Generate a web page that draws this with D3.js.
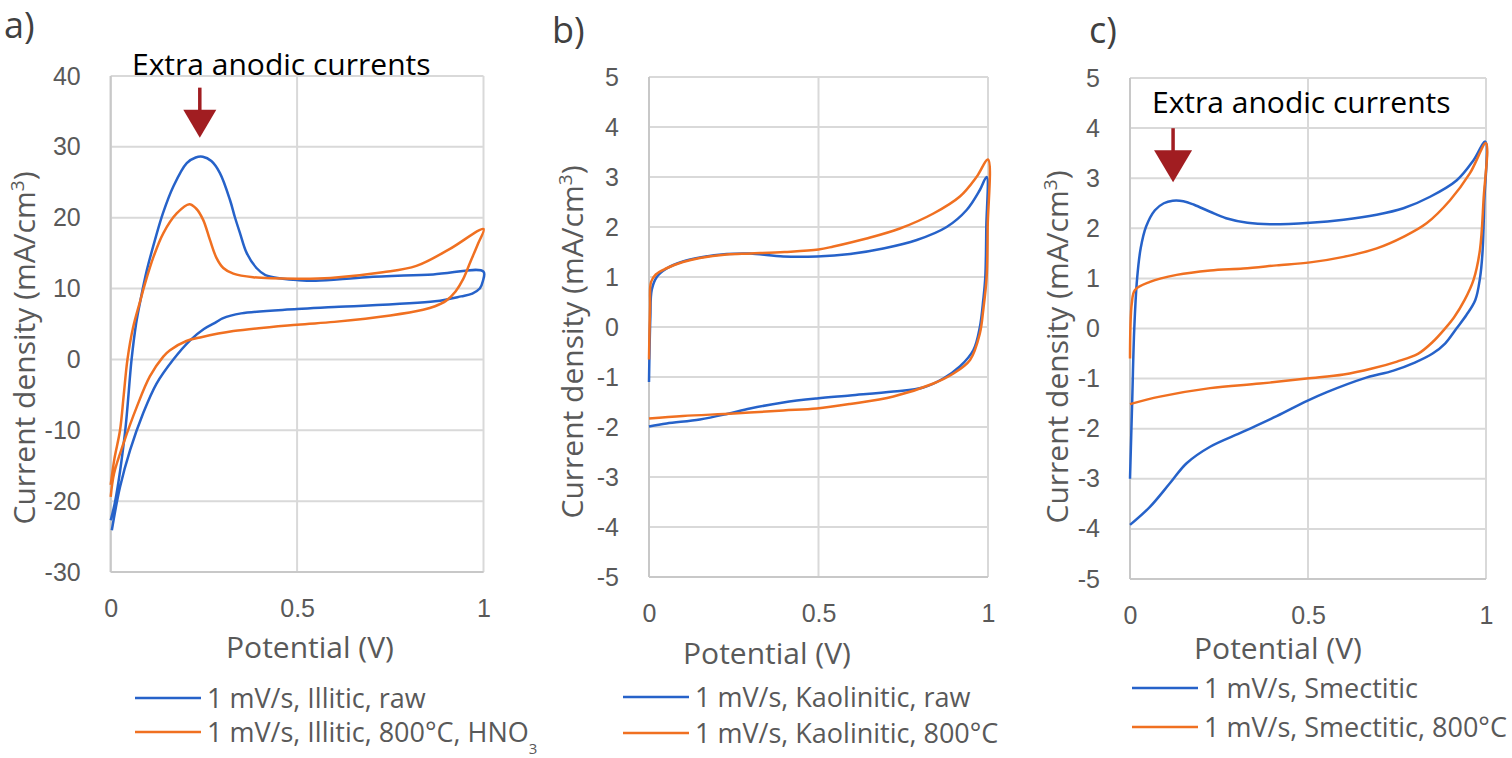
<!DOCTYPE html>
<html>
<head>
<meta charset="utf-8">
<script src="https://cdn.jsdelivr.net/npm/d3@7"></script>
<style>
body { margin: 0; background: #fff; }
svg { display: block; font-family: "Open Sans", sans-serif; }
.tick text { fill: #595959; font-size: 25px; }
.title { fill: #595959; font-size: 30px; }
.legend { fill: #595959; font-size: 27px; }
</style>
</head>
<body>
<svg id="chart" width="1512" height="758"></svg>
<script>
// tick values
var potentialTicks = [0, 0.5, 1];
var densityTicksA = [-30, -20, -10, 0, 10, 20, 30, 40];
var densityTicksBC = [-5, -4, -3, -2, -1, 0, 1, 2, 3, 4, 5];

// CV loops, [potential V, current density mA/cm3]
var illiticRaw = [[0,-22.7],[0.012,-20],[0.038,-10.5],[0.056,0],[0.068,5],[0.08,8.4],[0.097,12.6],[0.119,16.9],[0.14,20.6],[0.168,24.4],[0.204,27.7],[0.228,28.5],[0.247,28.6],[0.27,28.0],[0.293,26.3],[0.32,22.5],[0.333,20.1],[0.347,17.8],[0.365,15],[0.391,12.9],[0.415,11.9],[0.462,11.4],[0.5,11.2],[0.55,11.1],[0.686,11.6],[0.865,12.0],[1.0,12.4],
  [0.998,11],[0.99,10],[0.97,9.3],[0.94,8.9],[0.87,8.2],[0.6,7.4],[0.5,7.1],[0.35,6.5],[0.3,5.8],[0.284,5.3],[0.25,4.3],[0.213,2.7],[0.168,0],[0.123,-3.4],[0.087,-7.6],[0.052,-12.8],[0.025,-18],[0.003,-24.1]];
var illiticHNO3 = [[0,-17.7],[0.01,-14],[0.025,-10],[0.035,-5],[0.045,0],[0.06,4.5],[0.08,8.4],[0.092,10.7],[0.115,14.5],[0.141,17.8],[0.177,20.6],[0.211,21.9],[0.229,21.3],[0.248,19.7],[0.266,16.9],[0.284,14.3],[0.302,12.9],[0.329,12.1],[0.382,11.6],[0.5,11.4],[0.59,11.5],[0.73,12.3],[0.82,13.2],[0.91,15.6],[1.0,18.4],
  [0.985,16.3],[0.965,13.8],[0.945,11.3],[0.925,9.6],[0.9,8.3],[0.87,7.5],[0.838,7.0],[0.75,6.2],[0.6,5.3],[0.5,4.9],[0.329,4.0],[0.24,3.1],[0.203,2.6],[0.159,1.3],[0.141,0.4],[0.105,-2.4],[0.07,-6.7],[0.034,-11.9],[0.009,-16.1],[0,-19.4]];

var kaoliniticRaw = [[0,-1.1],[0.004,0.2],[0.008,0.74],[0.023,1.0],[0.052,1.17],[0.1,1.31],[0.15,1.39],[0.229,1.46],[0.298,1.47],[0.396,1.41],[0.495,1.41],[0.593,1.46],[0.691,1.57],[0.79,1.74],[0.878,2.0],[0.937,2.34],[0.976,2.74],[0.996,3.0],
  [0.995,2.0],[0.992,1.0],[0.986,0.54],[0.976,0],[0.957,-0.46],[0.917,-0.79],[0.868,-1.03],[0.809,-1.21],[0.721,-1.29],[0.593,-1.37],[0.495,-1.43],[0.396,-1.51],[0.298,-1.63],[0.23,-1.74],[0.15,-1.85],[0.052,-1.93],[0,-1.99]];
var kaolinitic800 = [[0,-0.65],[0.003,0.4],[0.006,0.9],[0.02,1.05],[0.05,1.17],[0.1,1.3],[0.15,1.38],[0.229,1.45],[0.3,1.47],[0.4,1.5],[0.5,1.55],[0.544,1.61],[0.642,1.77],[0.74,1.97],[0.839,2.27],[0.917,2.61],[0.966,3.0],[1.0,3.35],
  [0.999,2.0],[0.996,1.0],[0.986,0.34],[0.976,-0.13],[0.947,-0.66],[0.898,-0.93],[0.839,-1.13],[0.721,-1.39],[0.593,-1.54],[0.495,-1.63],[0.396,-1.67],[0.25,-1.73],[0.1,-1.78],[0,-1.83]];

var smectiticRaw = [[0,-3.0],[0.006,-1.5],[0.012,0],[0.02,1.0],[0.03,1.6],[0.045,2.03],[0.07,2.36],[0.095,2.5],[0.12,2.55],[0.15,2.54],[0.18,2.47],[0.225,2.33],[0.27,2.2],[0.33,2.11],[0.393,2.08],[0.506,2.11],[0.6,2.17],[0.693,2.27],[0.768,2.4],[0.843,2.63],[0.918,2.96],[0.965,3.36],[0.998,3.73],
  [0.995,2.5],[0.99,1.5],[0.983,1.0],[0.97,0.57],[0.945,0.27],[0.917,0],[0.885,-0.3],[0.85,-0.5],[0.8,-0.68],[0.74,-0.84],[0.655,-1.0],[0.553,-1.27],[0.496,-1.45],[0.412,-1.75],[0.318,-2.06],[0.225,-2.36],[0.159,-2.69],[0.112,-3.09],[0.056,-3.56],[0,-3.92]];
var smectitic800 = [[0,-0.6],[0.005,0.5],[0.014,0.77],[0.056,0.93],[0.131,1.07],[0.225,1.16],[0.318,1.2],[0.412,1.26],[0.506,1.32],[0.6,1.43],[0.693,1.6],[0.768,1.83],[0.833,2.1],[0.899,2.56],[0.955,3.1],[1.0,3.7],
  [0.993,2.56],[0.983,1.57],[0.965,0.97],[0.94,0.57],[0.91,0.22],[0.885,0],[0.85,-0.27],[0.81,-0.5],[0.75,-0.66],[0.68,-0.8],[0.6,-0.92],[0.496,-1.0],[0.365,-1.1],[0.225,-1.19],[0.084,-1.36],[0,-1.51]];

var legendA = ["1 mV/s, Illitic, raw", "1 mV/s, Illitic, 800°C, HNO"];
var legendB = ["1 mV/s, Kaolinitic, raw", "1 mV/s, Kaolinitic, 800°C"];
var legendC = ["1 mV/s, Smectitic", "1 mV/s, Smectitic, 800°C"];
var annotation = "Extra anodic currents";

var blue = "#2662c9", orange = "#f07021", arrowRed = "#a11d21";

var svg = d3.select("#chart");

var panels = [
  { label: "a)", lx: 4, ly: 38, x0: 110.7, x1: 483.5, yTop: 76, yBot: 572, yDomain: [-30, 40], yTicks: densityTicksA,
    series: [illiticRaw, illiticHNO3], legend: legendA, legX: 135, legY: [698, 732], sub: true,
    xtx: 310, xty: 658, ytx: 35, yty: 348,
    note: { x: 132, y: 75, tip: [0.239, 31.3], shaft: 50, head: 28, hw: 16.5 } },
  { label: "b)", lx: 552, ly: 43, x0: 649, x1: 988, yTop: 77, yBot: 577, yDomain: [-5, 5], yTicks: densityTicksBC,
    series: [kaoliniticRaw, kaolinitic800], legend: legendB, legX: 623, legY: [697, 733],
    xtx: 767, xty: 664, ytx: 583, yty: 342 },
  { label: "c)", lx: 1089, ly: 43, x0: 1130, x1: 1486, yTop: 78, yBot: 579, yDomain: [-5, 5], yTicks: densityTicksBC,
    series: [smectiticRaw, smectitic800], legend: legendC, legX: 1132, legY: [688, 727],
    xtx: 1278, xty: 659, ytx: 1068, yty: 347,
    note: { x: 1152, y: 113, tip: [0.121, 2.92], shaft: 54, head: 32, hw: 19 } }
];

panels.forEach(function(p){
  var x = d3.scaleLinear().domain([0, 1]).range([p.x0, p.x1]);
  var y = d3.scaleLinear().domain(p.yDomain).range([p.yBot, p.yTop]);
  var g = svg.append("g");

  // grid
  g.append("g").selectAll("line").data(p.yTicks).enter().append("line")
    .attr("x1", p.x0).attr("x2", p.x1)
    .attr("y1", function(d){ return y(d); }).attr("y2", function(d){ return y(d); })
    .attr("stroke", "#d9d9d9").attr("stroke-width", 2);
  g.append("g").selectAll("line").data(potentialTicks).enter().append("line")
    .attr("x1", function(d){ return x(d); }).attr("x2", function(d){ return x(d); })
    .attr("y1", p.yTop).attr("y2", p.yBot)
    .attr("stroke", "#d9d9d9").attr("stroke-width", 2);
  // left / bottom axis lines
  g.append("line").attr("x1", p.x0).attr("x2", p.x0).attr("y1", p.yTop).attr("y2", p.yBot)
    .attr("stroke", "#c8c8c8").attr("stroke-width", 2);
  g.append("line").attr("x1", p.x0).attr("x2", p.x1).attr("y1", p.yBot).attr("y2", p.yBot)
    .attr("stroke", "#c8c8c8").attr("stroke-width", 2);

  var fmt = function(d){ return String(d); };
  var ax = g.append("g").attr("transform", "translate(0," + p.yBot + ")")
    .call(d3.axisBottom(x).tickValues(potentialTicks).tickFormat(fmt).tickSize(0).tickPadding(27));
  ax.select(".domain").remove();
  ax.selectAll("text").attr("font-family", null).attr("font-size", null);

  var ay = g.append("g").attr("transform", "translate(" + p.x0 + ",0)")
    .call(d3.axisLeft(y).tickValues(p.yTicks).tickFormat(fmt).tickSize(0).tickPadding(30));
  ay.select(".domain").remove();
  ay.selectAll("text").attr("font-family", null).attr("font-size", null);

  // curves
  var line = d3.line()
    .x(function(d){ return x(d[0]); })
    .y(function(d){ return y(d[1]); })
    .curve(d3.curveCatmullRom.alpha(0.5));
  var colors = [blue, orange];
  p.series.forEach(function(s, i){
    g.append("path").datum(s).attr("d", line)
      .attr("fill", "none").attr("stroke", colors[i]).attr("stroke-width", 2.5)
      .attr("stroke-linejoin", "round");
  });

  // titles
  g.append("text").attr("class", "title").attr("x", p.xtx).attr("y", p.xty)
    .attr("text-anchor", "middle").text("Potential (V)");
  var yt = g.append("text").attr("class", "title")
    .attr("transform", "translate(" + p.ytx + "," + p.yty + ") rotate(-90)")
    .attr("text-anchor", "middle");
  yt.append("tspan").text("Current density (mA/cm");
  yt.append("tspan").attr("font-size", "19px").attr("dy", -11).text("3");
  yt.append("tspan").attr("dy", 11).text(")");

  g.append("text").attr("x", p.lx).attr("y", p.ly).attr("font-size", 36)
    .attr("fill", "#404040").text(p.label);

  // legend
  p.legend.forEach(function(l, i){
    g.append("line").attr("x1", p.legX).attr("x2", p.legX + 66)
      .attr("y1", p.legY[i]).attr("y2", p.legY[i])
      .attr("stroke", colors[i]).attr("stroke-width", 2.5);
    var t = g.append("text").attr("class", "legend").attr("x", p.legX + 72).attr("y", p.legY[i] + 10).text(l);
    if (p.sub && i == 1) {
      t.append("tspan").attr("font-size", "15px").attr("dy", 12).text("3");
    }
  });

  // annotation
  if (p.note) {
    var n = p.note;
    g.append("text").attr("x", n.x).attr("y", n.y).attr("font-size", 30).attr("fill", "#000").text(annotation);
    var tx = x(n.tip[0]), ty = y(n.tip[1]);
    g.append("line").attr("x1", tx).attr("x2", tx).attr("y1", ty - n.shaft).attr("y2", ty - n.head + 2)
      .attr("stroke", arrowRed).attr("stroke-width", 3.5);
    g.append("path")
      .attr("d", "M" + (tx - n.hw) + "," + (ty - n.head) + "L" + (tx + n.hw) + "," + (ty - n.head) + "L" + tx + "," + ty + "Z")
      .attr("fill", arrowRed);
  }
});
</script>
</body>
</html>
